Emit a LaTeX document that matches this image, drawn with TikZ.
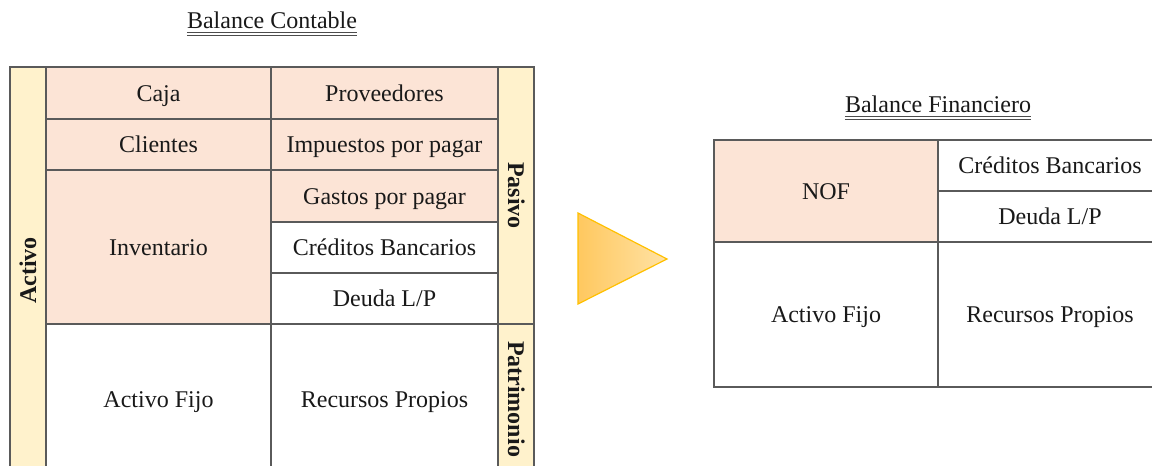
\documentclass[tikz,border=0pt]{standalone}
\usepackage{fontspec}
\setmainfont{Liberation Serif}
\definecolor{salmon}{HTML}{FCE4D6}
\definecolor{sideyel}{HTML}{FFF2CC}
\definecolor{gridln}{HTML}{5A5A5A}
\definecolor{triL}{RGB}{255,200,95}
\definecolor{triR}{RGB}{255,226,165}
\definecolor{triB}{RGB}{255,192,0}
\begin{document}
\begin{tikzpicture}[x=1pt,y=-1pt,
  cell/.style={draw=gridln, line width=1.1pt, inner sep=0pt,
    font=\fontsize{24}{28}\selectfont, text=black!90, text height=16pt, text depth=0pt},
  side/.style={cell, fill=sideyel, font=\fontsize{24}{28}\selectfont\bfseries},
  titletext/.style={inner sep=0pt, anchor=base, font=\fontsize{24}{28}\selectfont, text=black!90},
  uline/.style={line width=0.9pt, draw=black!70}]
\useasboundingbox (0,0) rectangle (1152,466);
\clip (0,0) rectangle (1152,466);
% left table
\node[side, minimum width=407pt, minimum height=36pt, rotate=90] (activo) at (28,270.5) {Activo};
\node[cell, fill=salmon, minimum width=225pt, minimum height=52pt] (caja) at (158.5,93) {Caja};
\node[cell, fill=salmon, minimum width=225pt, minimum height=51pt] (clientes) at (158.5,144.5) {Clientes};
\node[cell, fill=salmon, minimum width=225pt, minimum height=154pt] (inventario) at (158.5,247) {Inventario};
\node[cell, fill=white, minimum width=225pt, minimum height=150pt] (activofijo) at (158.5,399) {Activo Fijo};
\node[cell, fill=salmon, minimum width=227pt, minimum height=52pt] (proveedores) at (384.5,93) {Proveedores};
\node[cell, fill=salmon, minimum width=227pt, minimum height=51pt] (impuestos) at (384.5,144.5) {Impuestos por pagar};
\node[cell, fill=salmon, minimum width=227pt, minimum height=52pt] (gastos) at (384.5,196) {Gastos por pagar};
\node[cell, fill=white, minimum width=227pt, minimum height=51pt] (creditos) at (384.5,247.5) {Créditos Bancarios};
\node[cell, fill=white, minimum width=227pt, minimum height=51pt] (deuda) at (384.5,298.5) {Deuda L/P};
\node[cell, fill=white, minimum width=227pt, minimum height=150pt] (recursos) at (384.5,399) {Recursos Propios};
\node[side, minimum width=257pt, minimum height=36pt, rotate=-90] (pasivo) at (516,195.5) {Pasivo};
\node[side, minimum width=150pt, minimum height=36pt, rotate=-90] (patrimonio) at (516,399) {Patrimonio};
% titles
\node[titletext] (tcont) at (272,28.5) {Balance Contable};
\draw[uline] ([yshift=-4pt]tcont.base west) -- ([yshift=-4pt]tcont.base east);
\draw[uline] ([yshift=-6.8pt]tcont.base west) -- ([yshift=-6.8pt]tcont.base east);
\node[titletext] (tfin) at (938,112.5) {Balance Financiero};
\draw[uline] ([yshift=-4pt]tfin.base west) -- ([yshift=-4pt]tfin.base east);
\draw[uline] ([yshift=-6.8pt]tfin.base west) -- ([yshift=-6.8pt]tfin.base east);
% arrow triangle
\draw[triB, line width=1.2pt, left color=triL, right color=triR, line join=miter]
  (578,213) -- (667,259) -- (578,304) -- cycle;
% right table
\node[cell, fill=salmon, minimum width=224pt, minimum height=102pt] (nof) at (826,191) {NOF};
\node[cell, fill=white, minimum width=224pt, minimum height=51pt] (creditosb) at (1050,165.5) {Créditos Bancarios};
\node[cell, fill=white, minimum width=224pt, minimum height=51pt] (deudab) at (1050,216.5) {Deuda L/P};
\node[cell, fill=white, minimum width=224pt, minimum height=145pt] (afb) at (826,314.5) {Activo Fijo};
\node[cell, fill=white, minimum width=224pt, minimum height=145pt] (rpb) at (1050,314.5) {Recursos Propios};
\end{tikzpicture}
\end{document}
